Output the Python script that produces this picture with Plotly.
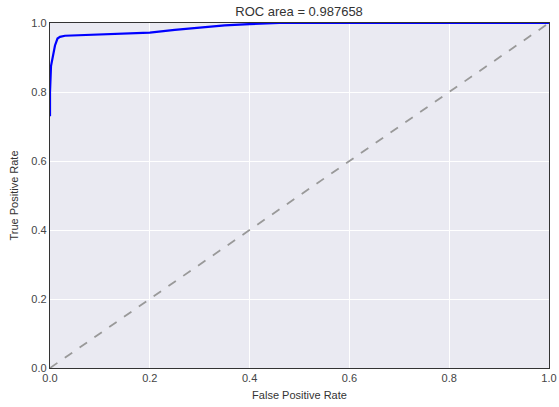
import plotly.graph_objects as go

fpr = [0.0, 0.0, 0.002, 0.005, 0.01, 0.015, 0.02, 0.03, 0.1, 0.2, 0.25, 0.3, 0.35, 0.4, 0.46, 1.0]
tpr = [0.73, 0.8, 0.875, 0.895, 0.935, 0.955, 0.96, 0.963, 0.966, 0.972, 0.98, 0.987, 0.993, 0.997, 1.0, 1.0]
diag = [0.0, 1.0]
title = "ROC area = 0.987658"
tickvals = [0.0, 0.2, 0.4, 0.6, 0.8, 1.0]
ticktext = ["0.0", "0.2", "0.4", "0.6", "0.8", "1.0"]

fig = go.Figure()
fig.add_trace(go.Scatter(x=diag, y=diag, mode="lines",
                         line=dict(color="#999999", width=1.8, dash="dash"),
                         showlegend=False, hoverinfo="skip"))
fig.add_trace(go.Scatter(x=fpr, y=tpr, mode="lines",
                         line=dict(color="#0000ff", width=2.2),
                         showlegend=False))

axis_common = dict(range=[0, 1], tickvals=tickvals, ticktext=ticktext,
                   showgrid=True, gridcolor="white", gridwidth=1.2,
                   zeroline=False, showline=True, mirror=True,
                   linecolor="#333333", linewidth=1.3, ticks="",
                   automargin=False,
                   tickfont=dict(size=11, color="#444444"))

fig.update_layout(
    width=559, height=407,
    margin=dict(l=50, r=10, t=23, b=39, autoexpand=False),
    paper_bgcolor="white", plot_bgcolor="#EAEAF2",
    font=dict(family="Liberation Sans, Arial, sans-serif", color="#333333"),
    title=dict(text=title, x=0.535, xanchor="center", y=0.972, yanchor="middle",
               font=dict(size=13, color="#333333")),
    xaxis=dict(axis_common, title=dict(text="False Positive Rate", font=dict(size=11), standoff=7)),
    yaxis=dict(axis_common, title=dict(text="True Positive Rate", font=dict(size=11), standoff=10)),
)

fig.write_html("out.html", config={"displayModeBar": False},
               post_script="document.body.style.margin='0';document.body.style.overflow='hidden';")
